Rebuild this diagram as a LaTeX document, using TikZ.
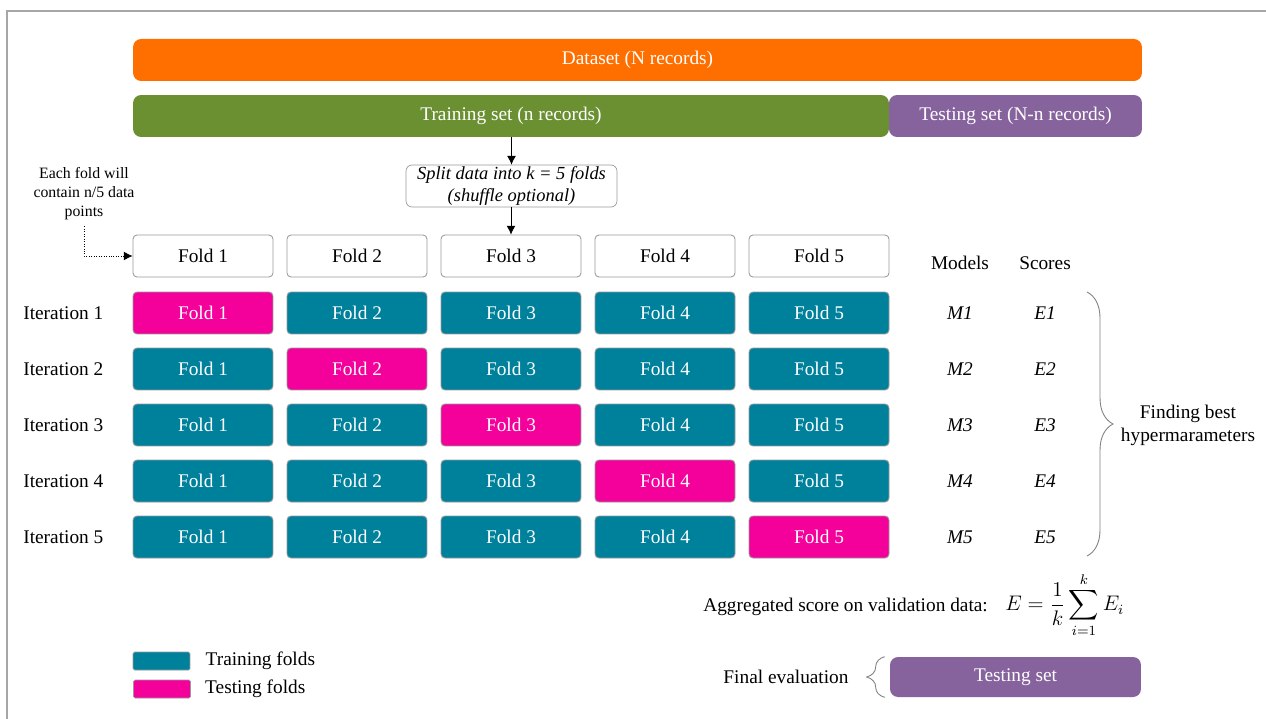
\documentclass[tikz,border=0pt]{standalone}
\usepackage{fontspec}
\setmainfont{Liberation Serif}
\usepackage{amsmath}
\usepackage{tikz}
\usetikzlibrary{arrows.meta, decorations.pathreplacing, positioning}

\definecolor{dataorange}{RGB}{255,111,0}
\definecolor{traingreen}{RGB}{107,144,50}
\definecolor{testpurple}{RGB}{135,99,158}
\definecolor{foldteal}{RGB}{0,129,155}
\definecolor{foldpink}{RGB}{244,0,154}

\tikzset{
	txt/.style={font=\fontsize{11}{13}\selectfont},
	bar/.style={txt, rounded corners=0.16cm, minimum height=0.84cm, text=white, inner sep=0pt},
	fold/.style={txt, draw=gray!80, rounded corners=0.08cm, minimum width=2.8cm, minimum height=0.84cm, inner sep=0pt, line width=0.5pt},
	trainfold/.style={fold, fill=foldteal, text=white},
	testfold/.style={fold, fill=foldpink, text=white},
	rowlabel/.style={txt, anchor=west, inner sep=0pt},
	score/.style={font=\fontsize{11}{13}\selectfont\itshape},
	legendbox/.style={draw=gray!80, fill=#1, rounded corners=0.03cm, minimum width=1.14cm, minimum height=0.36cm, inner sep=0pt, line width=0.4pt},
	curly/.style={draw=gray, line width=0.5pt, decorate, decoration={brace, amplitude=#1}},
	arr/.style={-{Latex[length=5pt, width=5pt]}}
}

\begin{document}
\begin{tikzpicture}[x=0.02cm, y=-0.02cm]
					\useasboundingbox (0,0) rectangle (1266,719);
					\draw [gray!70, line width=0.8pt] (7,719) -- (7,11) -- (1266,11);
					
					% dataset bars
					\node [bar, fill=dataorange, minimum width=20.18cm] (dataset) at (637.5,60) {Dataset (N records)};
					\node [bar, fill=traingreen, minimum width=15.12cm] (trainset) at (511,116) {Training set (n records)};
					\node [bar, fill=testpurple, minimum width=5.06cm] (testset) at (1015.5,116) {Testing set (N-n records)};
					
					\node [draw=gray!80, rounded corners=0.12cm, minimum width=4.22cm, minimum height=0.84cm, inner sep=0pt, align=center, font=\fontsize{10.5}{12}\selectfont\itshape] (split) at (511.5,186) {Split data into k = 5 folds\\(shuffle optional)};
					\draw [arr] (split.north |- trainset.south) -- (split.north);
					
					% header folds
					\node [fold] (h1) at (203,256) {Fold 1};
					\node [fold] (h2) at (357,256) {Fold 2};
					\node [fold] (h3) at (511,256) {Fold 3};
					\node [fold] (h4) at (665,256) {Fold 4};
					\node [fold] (h5) at (819,256) {Fold 5};
					\draw [arr] (split.south -| h3.north) -- (h3.north);
					
					\node [align=center, font=\fontsize{9}{10.8}\selectfont] (note) at (84,194) {Each fold will\\contain n/5 data\\points};
					\draw [densely dotted, arr] (note.south) |- (h1.west);
					
					\node [txt] (models) at (960,263) {Models};
					\node [txt] (scores) at (1045,263) {Scores};
					
					% iteration 1
					\node [rowlabel] (it1) at (23,313) {Iteration 1};
					\node [testfold] (f11) at (203,313) {Fold 1};
					\node [trainfold] (f12) at (357,313) {Fold 2};
					\node [trainfold] (f13) at (511,313) {Fold 3};
					\node [trainfold] (f14) at (665,313) {Fold 4};
					\node [trainfold] (f15) at (819,313) {Fold 5};
					\node [score] (m1) at (960,313) {M1};
					\node [score] (e1) at (1045,313) {E1};
					
					% iteration 2
					\node [rowlabel] (it2) at (23,369) {Iteration 2};
					\node [trainfold] (f21) at (203,369) {Fold 1};
					\node [testfold] (f22) at (357,369) {Fold 2};
					\node [trainfold] (f23) at (511,369) {Fold 3};
					\node [trainfold] (f24) at (665,369) {Fold 4};
					\node [trainfold] (f25) at (819,369) {Fold 5};
					\node [score] (m2) at (960,369) {M2};
					\node [score] (e2) at (1045,369) {E2};
					
					% iteration 3
					\node [rowlabel] (it3) at (23,425) {Iteration 3};
					\node [trainfold] (f31) at (203,425) {Fold 1};
					\node [trainfold] (f32) at (357,425) {Fold 2};
					\node [testfold] (f33) at (511,425) {Fold 3};
					\node [trainfold] (f34) at (665,425) {Fold 4};
					\node [trainfold] (f35) at (819,425) {Fold 5};
					\node [score] (m3) at (960,425) {M3};
					\node [score] (e3) at (1045,425) {E3};
					
					% iteration 4
					\node [rowlabel] (it4) at (23,481) {Iteration 4};
					\node [trainfold] (f41) at (203,481) {Fold 1};
					\node [trainfold] (f42) at (357,481) {Fold 2};
					\node [trainfold] (f43) at (511,481) {Fold 3};
					\node [testfold] (f44) at (665,481) {Fold 4};
					\node [trainfold] (f45) at (819,481) {Fold 5};
					\node [score] (m4) at (960,481) {M4};
					\node [score] (e4) at (1045,481) {E4};
					
					% iteration 5
					\node [rowlabel] (it5) at (23,537) {Iteration 5};
					\node [trainfold] (f51) at (203,537) {Fold 1};
					\node [trainfold] (f52) at (357,537) {Fold 2};
					\node [trainfold] (f53) at (511,537) {Fold 3};
					\node [trainfold] (f54) at (665,537) {Fold 4};
					\node [testfold] (f55) at (819,537) {Fold 5};
					\node [score] (m5) at (960,537) {M5};
					\node [score] (e5) at (1045,537) {E5};
					
					\coordinate (bracetop) at (1087,292);
					\coordinate (bracebot) at (1087,556);
					\draw [curly=0.52cm] (bracetop) -- (bracebot);
					\node [txt, align=center] (best) at (1188,425) {Finding best\\hypermarameters};
					
					\node [txt, anchor=west, inner sep=0pt] (aggr) at (703,607) {Aggregated score on validation data:};
					\node [anchor=west, inner sep=0pt, font=\fontsize{12}{14}\selectfont] (formula) at (1005,605) {$\displaystyle E=\frac{1}{k}\sum_{i=1}^{k}E_i$};
					
					\node [txt] (final) at (786,677) {Final evaluation};
					\node [bar, fill=testpurple, minimum width=5.02cm, minimum height=0.8cm] (finaltest) at (1015.5,677) {Testing set};
					\draw [curly=0.36cm] ([xshift=-0.1cm]finaltest.south west) -- ([xshift=-0.1cm]finaltest.north west);
					
					% legend
					\node [legendbox=foldteal] (keytrain) at (161.5,661) {};
					\node [legendbox=foldpink] (keytest) at (162,689) {};
					\node [txt, inner sep=0pt, right=0.3cm of keytrain] (keytraintext) {Training folds};
					\node [txt, inner sep=0pt, right=0.28cm of keytest] (keytesttext) {Testing folds};
\end{tikzpicture}
\end{document}
